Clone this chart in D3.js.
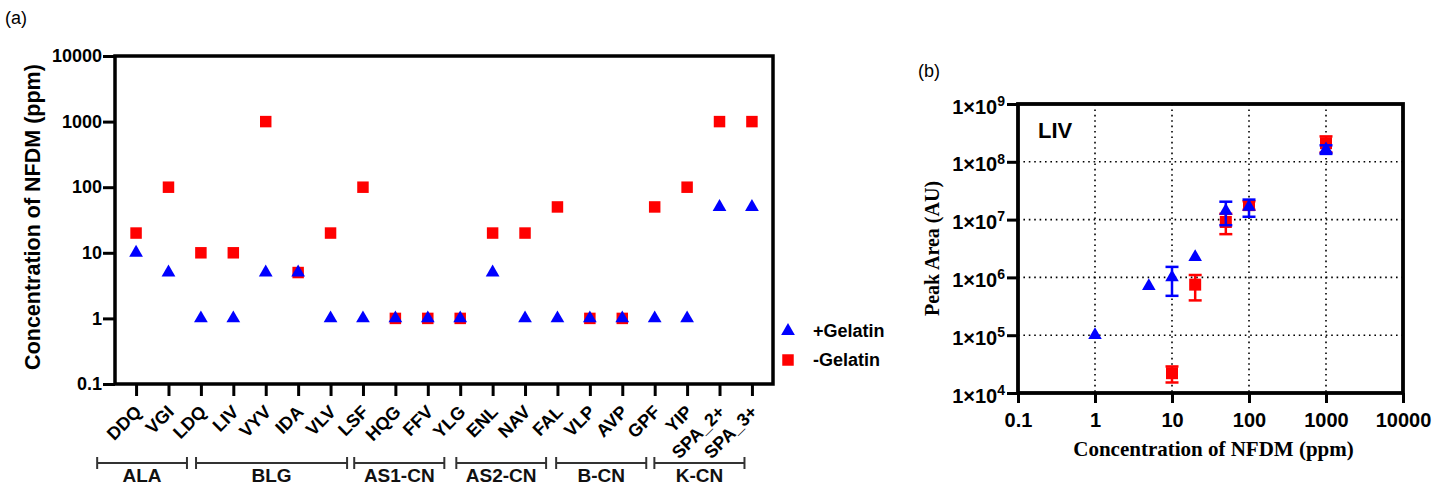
<!DOCTYPE html>
<html>
<head>
<meta charset="utf-8">
<script src="https://cdn.jsdelivr.net/npm/d3@7"></script>
<style>
  html, body { margin: 0; padding: 0; background: #fff; }
  svg { display: block; }
</style>
</head>
<body>
<svg id="fig" width="1450" height="487" font-family="Liberation Sans, Arial, sans-serif"></svg>
<script>
// ---------- Panel (a): lowest detectable concentration per peptide ----------
const peptides = ["DDQ","VGI","LDQ","LIV","VYV","IDA","VLV","LSF","HQG","FFV",
                  "YLG","ENL","NAV","FAL","VLP","AVP","GPF","YIP","SPA_2+","SPA_3+"];
const withGelatin    = [10, 5, 1, 1, 5, 5, 1, 1, 1, 1, 1, 5, 1, 1, 1, 1, 1, 1, 50, 50];
const withoutGelatin = [20, 100, 10, 10, 1000, 5, 20, 100, 1, 1, 1, 20, 20, 50, 1, 1, 50, 100, 1000, 1000];
const yTicksA = [0.1, 1, 10, 100, 1000, 10000];

// protein groups and the span of each bracket, in peptide-index units
const groupNames = ["ALA", "BLG", "AS1-CN", "AS2-CN", "B-CN", "K-CN"];
const groupStart = [-1.2, 1.85, 6.73, 9.88, 12.96, 15.99];
const groupEnd   = [1.57, 6.51, 9.51, 12.65, 15.74, 18.77];

// ---------- Panel (b): LIV peak area vs NFDM concentration ----------
const livConcPlus   = [1, 5, 10, 20, 50, 100, 1000];
const livAreaPlus   = [1.0e5, 7.1e5, 1.0e6, 2.25e6, 1.42e7, 1.67e7, 1.65e8];
const livSdPlus     = [0, 0, 5.2e5, 0, 6.2e6, 5.5e6, 2.8e7];
const livConcMinus  = [10, 20, 50, 100, 1000];
const livAreaMinus  = [2.2e4, 7.5e5, 9.1e6, 1.78e7, 2.1e8];
const livSdMinus    = [6.8e3, 3.5e5, 3.5e6, 3.0e6, 6.5e7];
const xTicksB = [0.1, 1, 10, 100, 1000, 10000];
const yTicksB = [1e4, 1e5, 1e6, 1e7, 1e8, 1e9];

const BLUE = "#0000ff", RED = "#ff0000";
const SANS = "Liberation Sans, Arial, sans-serif";
const SERIF = "Liberation Serif, Times New Roman, serif";
const svg = d3.select("#fig");
const fmtConc = d => d >= 1 ? d3.format("d")(d) : String(d);

// ======================= Panel (a) =======================
const A = { left: 115, right: 773, top: 56, bottom: 384 };
const xA = d3.scalePoint().domain(peptides).range([A.left, A.right]).padding(0.65);
const yA = d3.scaleLog().domain([0.1, 10000]).range([A.bottom, A.top]);
const stepA = xA.step();
const xIdx = i => xA(peptides[0]) + i * stepA;

svg.append("text").attr("x", 5).attr("y", 24).attr("font-size", 18).text("(a)");

const gA = svg.append("g");

// y axis
gA.append("g").attr("transform", `translate(${A.left},0)`)
  .call(d3.axisLeft(yA).tickValues(yTicksA).tickFormat(fmtConc).tickSize(12).tickPadding(1))
  .call(g => g.select(".domain").remove())
  .call(g => g.selectAll(".tick line").attr("stroke", "#000").attr("stroke-width", 3))
  .call(g => g.selectAll(".tick text").attr("font-size", 18).attr("font-weight", "bold")
               .attr("fill", "#000").attr("font-family", SANS));

// x axis with rotated peptide labels
gA.append("g").attr("transform", `translate(0,${A.bottom})`)
  .call(d3.axisBottom(xA).tickSize(12).tickSizeOuter(0))
  .call(g => g.select(".domain").remove())
  .call(g => g.selectAll(".tick line").attr("stroke", "#000").attr("stroke-width", 3))
  .call(g => g.selectAll(".tick text")
      .attr("font-size", 18).attr("font-weight", "bold").attr("fill", "#000")
      .attr("font-family", SANS)
      .attr("text-anchor", "end").attr("dy", null).attr("y", null)
      .attr("transform", "translate(6,29) rotate(-45)"));

// frame
gA.append("rect").attr("x", A.left).attr("y", A.top)
  .attr("width", A.right - A.left).attr("height", A.bottom - A.top)
  .attr("fill", "none").attr("stroke", "#000").attr("stroke-width", 3.5);

svg.append("text")
  .attr("transform", `translate(33,${(A.top + A.bottom) / 2 - 3}) rotate(-90)`)
  .attr("text-anchor", "middle").attr("dominant-baseline", "central")
  .attr("font-size", 21.5).attr("font-weight", "bold").text("Concentration of NFDM (ppm)");

// group brackets
const brY = 463;
const br = gA.append("g").attr("stroke", "#333").attr("stroke-width", 2);
groupNames.forEach((name, i) => {
  const x0 = xIdx(groupStart[i]), x1 = xIdx(groupEnd[i]);
  br.append("line").attr("x1", x0).attr("x2", x1).attr("y1", brY).attr("y2", brY);
  br.append("line").attr("x1", x0).attr("x2", x0).attr("y1", brY - 6).attr("y2", brY + 6);
  br.append("line").attr("x1", x1).attr("x2", x1).attr("y1", brY - 6).attr("y2", brY + 6);
  gA.append("text").attr("x", (x0 + x1) / 2).attr("y", 482)
    .attr("text-anchor", "middle").attr("font-size", 19).attr("font-weight", "bold")
    .attr("fill", "#111").text(name);
});

// markers: squares first, triangles on top
const sqA = d3.symbol(d3.symbolSquare, 132)();
const trA = d3.symbol(d3.symbolTriangle, 82)();
gA.append("g").selectAll("path").data(withoutGelatin).join("path")
  .attr("d", sqA).attr("fill", RED)
  .attr("transform", (d, i) => `translate(${xA(peptides[i])},${yA(d)})`);
gA.append("g").selectAll("path").data(withGelatin).join("path")
  .attr("d", trA).attr("fill", BLUE)
  .attr("transform", (d, i) => `translate(${xA(peptides[i])},${yA(d)})`);

// legend
const lg = svg.append("g");
lg.append("path").attr("d", trA).attr("fill", BLUE).attr("transform", "translate(788,331)");
lg.append("text").attr("x", 813).attr("y", 331).attr("dominant-baseline", "central")
  .attr("font-size", 18).attr("font-weight", "bold").text("+Gelatin");
lg.append("path").attr("d", sqA).attr("fill", RED).attr("transform", "translate(788,360)");
lg.append("text").attr("x", 813).attr("y", 360).attr("dominant-baseline", "central")
  .attr("font-size", 18).attr("font-weight", "bold").text("-Gelatin");

// ======================= Panel (b) =======================
const B = { left: 1018, right: 1403, top: 104, bottom: 393 };
const xB = d3.scaleLog().domain([0.1, 10000]).range([B.left, B.right]);
const yB = d3.scaleLog().domain([1e4, 1e9]).range([B.bottom, B.top]);

svg.append("text").attr("x", 918).attr("y", 77).attr("font-size", 18).text("(b)");
const gB = svg.append("g");

// dotted grid at inner decades
const grid = gB.append("g").attr("stroke", "#000").attr("stroke-width", 1.6)
  .attr("stroke-dasharray", "1.6,3.8");
xTicksB.slice(1, -1).forEach(v => grid.append("line")
  .attr("x1", xB(v)).attr("x2", xB(v)).attr("y1", B.top).attr("y2", B.bottom));
yTicksB.slice(1, -1).forEach(v => grid.append("line")
  .attr("x1", B.left).attr("x2", B.right).attr("y1", yB(v)).attr("y2", yB(v)));

// axes
gB.append("g").attr("transform", `translate(${B.left},0)`)
  .call(d3.axisLeft(yB).tickValues(yTicksB).tickSize(11).tickPadding(2).tickFormat(() => ""))
  .call(g => g.select(".domain").remove())
  .call(g => g.selectAll(".tick line").attr("stroke", "#000").attr("stroke-width", 3))
  .call(g => g.selectAll(".tick text").each(function (d) {
      const t = d3.select(this)
        .attr("font-size", 20).attr("font-weight", "bold").attr("fill", "#000")
        .attr("font-family", SANS).attr("dy", "0.45em");
      t.append("tspan").text("1×10");
      t.append("tspan").attr("dy", "-0.55em").attr("font-size", 14)
        .text(String(Math.round(Math.log10(d))));
    }));

gB.append("g").attr("transform", `translate(0,${B.bottom})`)
  .call(d3.axisBottom(xB).tickValues(xTicksB).tickSize(10).tickPadding(10).tickFormat(fmtConc))
  .call(g => g.select(".domain").remove())
  .call(g => g.selectAll(".tick line").attr("stroke", "#000").attr("stroke-width", 3))
  .call(g => g.selectAll(".tick text").attr("font-size", 20).attr("font-weight", "bold")
      .attr("fill", "#000").attr("font-family", SANS));

gB.append("rect").attr("x", B.left).attr("y", B.top)
  .attr("width", B.right - B.left).attr("height", B.bottom - B.top)
  .attr("fill", "none").attr("stroke", "#000").attr("stroke-width", 3.8);

svg.append("text").attr("x", 1038).attr("y", 138)
  .attr("font-size", 22).attr("font-weight", "bold").text("LIV");

svg.append("text")
  .attr("transform", `translate(932,${(B.top + B.bottom) / 2}) rotate(-90)`)
  .attr("text-anchor", "middle").attr("dominant-baseline", "central")
  .attr("font-family", SERIF)
  .attr("font-size", 20).attr("font-weight", "bold").text("Peak Area (AU)");
svg.append("text")
  .attr("x", (B.left + B.right) / 2 + 3).attr("y", 456)
  .attr("text-anchor", "middle")
  .attr("font-family", SERIF)
  .attr("font-size", 21).attr("font-weight", "bold").text("Concentration of NFDM (ppm)");

// error bars + markers
function series(conc, area, sd, color, sym) {
  const g = gB.append("g");
  const eb = g.append("g").attr("stroke", color).attr("stroke-width", 2.5);
  conc.forEach((c, i) => {
    if (!sd[i]) return;
    const x = xB(c), y0 = yB(area[i] - sd[i]), y1 = yB(area[i] + sd[i]);
    eb.append("line").attr("x1", x).attr("x2", x).attr("y1", y0).attr("y2", y1);
    eb.append("line").attr("x1", x - 6.5).attr("x2", x + 6.5).attr("y1", y0).attr("y2", y0);
    eb.append("line").attr("x1", x - 6.5).attr("x2", x + 6.5).attr("y1", y1).attr("y2", y1);
  });
  g.append("g").selectAll("path").data(conc).join("path")
    .attr("d", sym).attr("fill", color)
    .attr("transform", (c, i) => `translate(${xB(c)},${yB(area[i])})`);
}
series(livConcMinus, livAreaMinus, livSdMinus, RED, d3.symbol(d3.symbolSquare, 144)());
series(livConcPlus, livAreaPlus, livSdPlus, BLUE, d3.symbol(d3.symbolTriangle, 80)());
</script>
</body>
</html>
